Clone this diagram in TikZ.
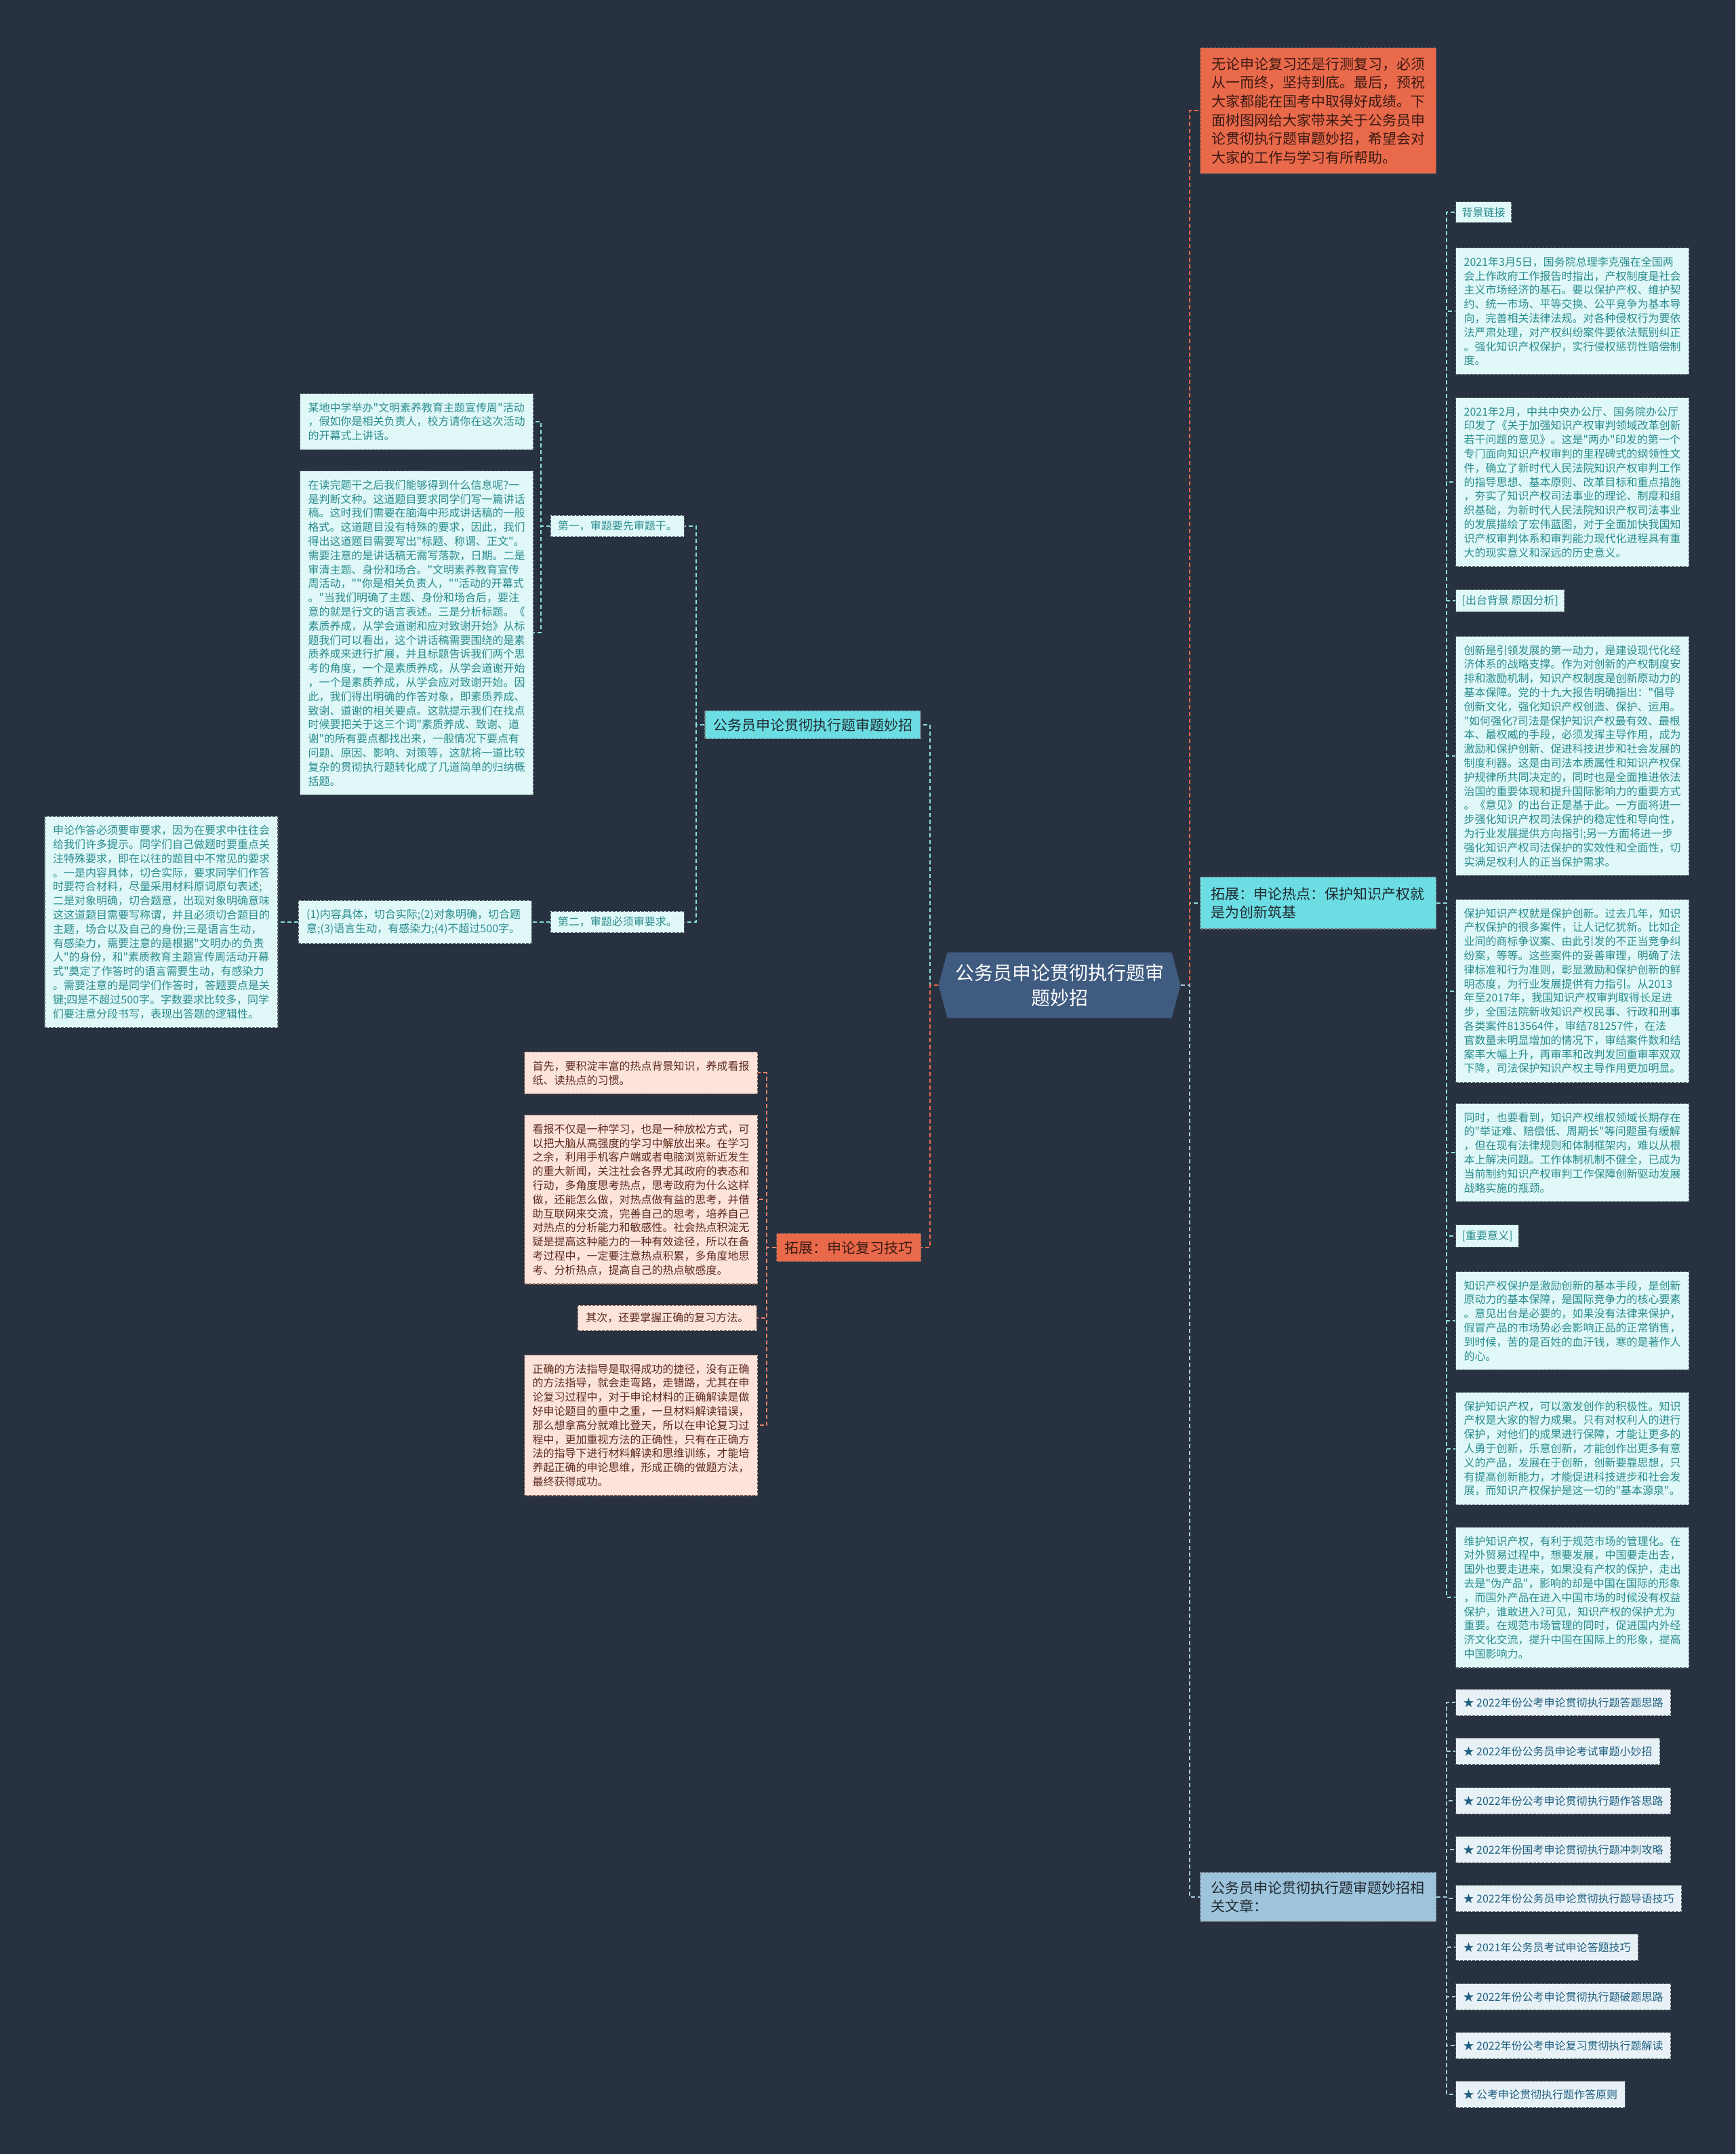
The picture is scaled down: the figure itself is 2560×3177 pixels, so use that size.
\documentclass[tikz,border=0pt]{standalone}
\usepackage{fontspec}
\newfontfamily\zh{Noto Sans CJK SC}
\usetikzlibrary{shapes.symbols}
\definecolor{bg}{HTML}{28313F}
\definecolor{cOrange}{HTML}{E9694B}
\definecolor{cCyan}{HTML}{6BDDE3}
\definecolor{cBlue}{HTML}{9EC4DC}
\definecolor{cCenter}{HTML}{3F5B80}
\definecolor{tFill}{HTML}{E1F8F8}
\definecolor{tText}{HTML}{2A8C8E}
\definecolor{tBorder}{HTML}{56666E}
\definecolor{pFill}{HTML}{FDE4DB}
\definecolor{pText}{HTML}{5E2B1F}
\definecolor{pBorder}{HTML}{7A5A50}
\definecolor{rFill}{HTML}{E8F2F6}
\definecolor{rText}{HTML}{1F5E80}
\definecolor{eCyanC}{HTML}{8ADDE2}
\definecolor{eBlueC}{HTML}{A6CCE2}
\definecolor{eSalmonC}{HTML}{E9806A}
\definecolor{darkTxt}{HTML}{202A30}
\definecolor{orTxt}{HTML}{3B1A12}
\tikzset{
  edgebase/.style={line width=2pt, dash pattern=on 6pt off 4pt},
  eO/.style={edgebase, draw=cOrange},
  eC/.style={edgebase, draw=eCyanC},
  eB/.style={edgebase, draw=eBlueC},
  eP/.style={edgebase, draw=eSalmonC},
  boxbase/.style={line width=1.2pt, dash pattern=on 4pt off 2pt, align=left},
  tbox/.style={boxbase, draw=tBorder, fill=tFill, text=tText, font=\zh\fontsize{16}{20.8}\selectfont, text width=320pt, inner xsep=12pt, inner ysep=13pt, anchor=north west},
  tlab/.style={boxbase, draw=tBorder, fill=tFill, text=tText, font=\zh\fontsize{16}{20}\selectfont, inner xsep=9pt, inner ysep=8pt, anchor=west},
  pbox/.style={boxbase, draw=pBorder, fill=pFill, text=pText, font=\zh\fontsize{16}{20.8}\selectfont, text width=320pt, inner xsep=12pt, inner ysep=13pt, anchor=north west},
  plab/.style={boxbase, draw=pBorder, fill=pFill, text=pText, font=\zh\fontsize{16}{20}\selectfont, inner xsep=12pt, inner ysep=11pt, anchor=east},
  rbox/.style={boxbase, draw=tBorder, fill=rFill, text=rText, font=\zh\fontsize{16}{20}\selectfont, inner xsep=11pt, minimum height=39pt, anchor=west},
  bigO/.style={boxbase, draw=orTxt!70, fill=cOrange, text=orTxt, font=\zh\fontsize{21}{27.6}\selectfont},
  bigC/.style={boxbase, draw=darkTxt!60, fill=cCyan, text=darkTxt, font=\zh\fontsize{21}{27}\selectfont},
  bigB/.style={boxbase, draw=darkTxt!60, fill=cBlue, text=darkTxt, font=\zh\fontsize{21}{27}\selectfont},
}
\begin{document}
\begin{tikzpicture}[x=1pt,y=-1pt]
\fill[bg] (0,0) rectangle (2560,3177);
\useasboundingbox (0,0) rectangle (2560,3177);

% center
\node[signal, signal to=west and east, signal pointer angle=150, fill=cCenter, text=white,
  font=\zh\fontsize{28}{37}\selectfont, align=center, text width=312pt, inner xsep=4pt, inner ysep=6pt,
  minimum width=357pt, minimum height=97pt] (center) at (1563,1453) {公务员申论贯彻执行题审\\题妙招};

% right main nodes
\node[bigO, text width=315pt, inner xsep=16.5pt, inner ysep=14pt, anchor=north west] (intro) at (1770,70)
 {无论申论复习还是行测复习，必须\\从一而终，坚持到底。最后，预祝\\大家都能在国考中取得好成绩。下\\面树图网给大家带来关于公务员申\\论贯彻执行题审题妙招，希望会对\\大家的工作与学习有所帮助。};
\node[bigC, text width=316pt, inner xsep=16pt, inner ysep=15pt, anchor=north west] (hot) at (1770,1293)
 {拓展：申论热点：保护知识产权就\\是为创新筑基};
\node[bigB, text width=316pt, inner xsep=16pt, inner ysep=13pt, anchor=north west] (rel) at (1770,2761)
 {公务员申论贯彻执行题审题妙招相\\关文章：};

% left main nodes
\node[bigC, inner xsep=12pt, inner ysep=11pt] (b1) at (1199,1069) {公务员申论贯彻执行题审题妙招};
\node[bigO, inner xsep=12pt, inner ysep=11pt] (b2) at (1252,1840) {拓展：申论复习技巧};

% hot children
\node[tlab] (h0) at (2147,313) {背景链接};
\node[tbox] (r1) at (2147,365) {2021年3月5日，国务院总理李克强在全国两\\会上作政府工作报告时指出，产权制度是社会\\主义市场经济的基石。要以保护产权、维护契\\约、统一市场、平等交换、公平竞争为基本导\\向，完善相关法律法规。对各种侵权行为要依\\法严肃处理，对产权纠纷案件要依法甄别纠正\\。强化知识产权保护，实行侵权惩罚性赔偿制\\度。};
\node[tbox] (r2) at (2147,586) {2021年2月，中共中央办公厅、国务院办公厅\\印发了《关于加强知识产权审判领域改革创新\\若干问题的意见》。这是"两办"印发的第一个\\专门面向知识产权审判的里程碑式的纲领性文\\件，确立了新时代人民法院知识产权审判工作\\的指导思想、基本原则、改革目标和重点措施\\，夯实了知识产权司法事业的理论、制度和组\\织基础，为新时代人民法院知识产权司法事业\\的发展描绘了宏伟蓝图，对于全面加快我国知\\识产权审判体系和审判能力现代化进程具有重\\大的现实意义和深远的历史意义。};
\node[tlab] (h1) at (2147,886) {[出台背景 原因分析]};
\node[tbox] (r3) at (2147,938) {创新是引领发展的第一动力，是建设现代化经\\济体系的战略支撑。作为对创新的产权制度安\\排和激励机制，知识产权制度是创新原动力的\\基本保障。党的十九大报告明确指出："倡导\\创新文化，强化知识产权创造、保护、运用。\\"如何强化?司法是保护知识产权最有效、最根\\本、最权威的手段，必须发挥主导作用，成为\\激励和保护创新、促进科技进步和社会发展的\\制度利器。这是由司法本质属性和知识产权保\\护规律所共同决定的，同时也是全面推进依法\\治国的重要体现和提升国际影响力的重要方式\\。《意见》的出台正是基于此。一方面将进一\\步强化知识产权司法保护的稳定性和导向性，\\为行业发展提供方向指引;另一方面将进一步\\强化知识产权司法保护的实效性和全面性，切\\实满足权利人的正当保护需求。};
\node[tbox] (r4) at (2147,1326) {保护知识产权就是保护创新。过去几年，知识\\产权保护的很多案件，让人记忆犹新。比如企\\业间的商标争议案、由此引发的不正当竞争纠\\纷案，等等。这些案件的妥善审理，明确了法\\律标准和行为准则，彰显激励和保护创新的鲜\\明态度，为行业发展提供有力指引。从2013\\年至2017年，我国知识产权审判取得长足进\\步，全国法院新收知识产权民事、行政和刑事\\各类案件813564件，审结781257件，在法\\官数量未明显增加的情况下，审结案件数和结\\案率大幅上升，再审率和改判发回重审率双双\\下降，司法保护知识产权主导作用更加明显。};
\node[tbox] (r5) at (2147,1627) {同时，也要看到，知识产权维权领域长期存在\\的"举证难、赔偿低、周期长"等问题虽有缓解\\，但在现有法律规则和体制框架内，难以从根\\本上解决问题。工作体制机制不健全，已成为\\当前制约知识产权审判工作保障创新驱动发展\\战略实施的瓶颈。};
\node[tlab] (h2) at (2147,1823) {[重要意义]};
\node[tbox] (r6) at (2147,1875) {知识产权保护是激励创新的基本手段，是创新\\原动力的基本保障，是国际竞争力的核心要素\\。意见出台是必要的，如果没有法律来保护，\\假冒产品的市场势必会影响正品的正常销售，\\到时候，苦的是百姓的血汗钱，寒的是著作人\\的心。};
\node[tbox] (r7) at (2147,2053) {保护知识产权，可以激发创作的积极性。知识\\产权是大家的智力成果。只有对权利人的进行\\保护，对他们的成果进行保障，才能让更多的\\人勇于创新，乐意创新，才能创作出更多有意\\义的产品，发展在于创新，创新要靠思想，只\\有提高创新能力，才能促进科技进步和社会发\\展，而知识产权保护是这一切的"基本源泉"。};
\node[tbox] (r8) at (2147,2252) {维护知识产权，有利于规范市场的管理化。在\\对外贸易过程中，想要发展，中国要走出去，\\国外也要走进来，如果没有产权的保护，走出\\去是"伪产品"，影响的却是中国在国际的形象\\，而国外产品在进入中国市场的时候没有权益\\保护，谁敢进入?可见，知识产权的保护尤为\\重要。在规范市场管理的同时，促进国内外经\\济文化交流，提升中国在国际上的形象，提高\\中国影响力。};

% related articles
\node[rbox] (k1) at (2147,2511) {★ 2022年份公考申论贯彻执行题答题思路};
\node[rbox] (k2) at (2147,2583) {★ 2022年份公务员申论考试审题小妙招};
\node[rbox] (k3) at (2147,2656) {★ 2022年份公考申论贯彻执行题作答思路};
\node[rbox] (k4) at (2147,2728) {★ 2022年份国考申论贯彻执行题冲刺攻略};
\node[rbox] (k5) at (2147,2800) {★ 2022年份公务员申论贯彻执行题导语技巧};
\node[rbox] (k6) at (2147,2872) {★ 2021年公务员考试申论答题技巧};
\node[rbox] (k7) at (2147,2945) {★ 2022年份公考申论贯彻执行题破题思路};
\node[rbox] (k8) at (2147,3017) {★ 2022年份公考申论复习贯彻执行题解读};
\node[rbox] (k9) at (2147,3089) {★ 公考申论贯彻执行题作答原则};

% left branch 1 children
\node[tlab, anchor=east, inner xsep=10.5pt] (d1) at (1010,776) {第一，审题要先审题干。};
\node[tlab, anchor=east, inner xsep=10.5pt] (d2) at (1010,1360) {第二，审题必须审要求。};
\node[tbox] (l1) at (442,580) {某地中学举办"文明素养教育主题宣传周"活动\\，假如你是相关负责人，校方请你在这次活动\\的开幕式上讲话。};
\node[tbox] (l2) at (442,694) {在读完题干之后我们能够得到什么信息呢?一\\是判断文种。这道题目要求同学们写一篇讲话\\稿。这时我们需要在脑海中形成讲话稿的一般\\格式。这道题目没有特殊的要求，因此，我们\\得出这道题目需要写出"标题、称谓、正文"。\\需要注意的是讲话稿无需写落款，日期。二是\\审清主题、身份和场合。"文明素养教育宣传\\周活动，""你是相关负责人，""活动的开幕式\\。"当我们明确了主题、身份和场合后，要注\\意的就是行文的语言表述。三是分析标题。《\\素质养成，从学会道谢和应对致谢开始》从标\\题我们可以看出，这个讲话稿需要围绕的是素\\质养成来进行扩展，并且标题告诉我们两个思\\考的角度，一个是素质养成，从学会道谢开始\\，一个是素质养成，从学会应对致谢开始。因\\此，我们得出明确的作答对象，即素质养成、\\致谢、道谢的相关要点。这就提示我们在找点\\时候要把关于这三个词"素质养成、致谢、道\\谢"的所有要点都找出来，一般情况下要点有\\问题、原因、影响、对策等，这就将一道比较\\复杂的贯彻执行题转化成了几道简单的归纳概\\括题。};
\node[tbox, anchor=east] (e1) at ([xshift=-27pt]d2.west) {(1)内容具体，切合实际;(2)对象明确，切合题\\意;(3)语言生动，有感染力;(4)不超过500字。};
\node[tbox, anchor=east] (f1) at ([xshift=-29pt]e1.west) {申论作答必须要审要求，因为在要求中往往会\\给我们许多提示。同学们自己做题时要重点关\\注特殊要求，即在以往的题目中不常见的要求\\。一是内容具体，切合实际，要求同学们作答\\时要符合材料，尽量采用材料原词原句表述;\\二是对象明确，切合题意，出现对象明确意味\\这这道题目需要写称谓，并且必须切合题目的\\主题，场合以及自己的身份;三是语言生动，\\有感染力，需要注意的是根据"文明办的负责\\人"的身份，和"素质教育主题宣传周活动开幕\\式"奠定了作答时的语言需要生动，有感染力\\。需要注意的是同学们作答时，答题要点是关\\键;四是不超过500字。字数要求比较多，同学\\们要注意分段书写，表现出答题的逻辑性。};

% left branch 2 children
\node[pbox] (c1) at (773,1551) {首先，要积淀丰富的热点背景知识，养成看报\\纸、读热点的习惯。};
\node[pbox] (c2) at (773,1644) {看报不仅是一种学习，也是一种放松方式，可\\以把大脑从高强度的学习中解放出来。在学习\\之余，利用手机客户端或者电脑浏览新近发生\\的重大新闻，关注社会各界尤其政府的表态和\\行动，多角度思考热点，思考政府为什么这样\\做，还能怎么做，对热点做有益的思考，并借\\助互联网来交流，完善自己的思考，培养自己\\对热点的分析能力和敏感性。社会热点积淀无\\疑是提高这种能力的一种有效途径，所以在备\\考过程中，一定要注意热点积累，多角度地思\\考、分析热点，提高自己的热点敏感度。};
\node[plab] (c3) at (1117,1944) {其次，还要掌握正确的复习方法。};
\node[pbox] (c4) at (773,1998) {正确的方法指导是取得成功的捷径，没有正确\\的方法指导，就会走弯路，走错路，尤其在申\\论复习过程中，对于申论材料的正确解读是做\\好申论题目的重中之重，一旦材料解读错误，\\那么想拿高分就难比登天，所以在申论复习过\\程中，更加重视方法的正确性，只有在正确方\\法的指导下进行材料解读和思维训练，才能培\\养起正确的申论思维，形成正确的做题方法，\\最终获得成功。};

% junctions
\coordinate (jR) at (1755,1453);
\coordinate (jL) at (1372,1453);
\coordinate (jH) at ([xshift=15pt]hot.east);
\coordinate (jRel) at ([xshift=15pt]rel.east);
\coordinate (jB1) at ([xshift=-12pt]b1.west);
\coordinate (jB2) at ([xshift=-13.5pt]b2.west);
\coordinate (jD1) at ([xshift=-14pt]d1.west);

% connectors
\draw[eC] (center.east) -- (jR) |- (hot.west);
\draw[eO] (center.east) -- (jR) |- (intro.west);
\draw[eB] (center.east) -- (jR) |- (rel.west);
\draw[eC] (center.west) -- (jL) |- (b1.east);
\draw[eO] (center.west) -- (jL) |- (b2.east);

\foreach \n in {h0,r1,r2,h1,r3,r4,r5,h2,r6,r7,r8}{
  \draw[eC] (hot.east) -- (jH) |- (\n.west);
}
\foreach \n in {k1,k2,k3,k4,k5,k6,k7,k8,k9}{
  \draw[eB] (rel.east) -- (jRel) |- (\n.west);
}
\draw[eC] (b1.west) -- (jB1) |- (d1.east);
\draw[eC] (b1.west) -- (jB1) |- (d2.east);
\draw[eC] (d1.west) -- (jD1) |- (l1.east);
\draw[eC] (d1.west) -- (jD1) |- (l2.east);
\draw[eC] (d2.west) -- (e1.east);
\draw[eC] (e1.west) -- (f1.east);
\foreach \n in {c1,c2,c3,c4}{
  \draw[eP] (b2.west) -- (jB2) |- (\n.east);
}
\end{tikzpicture}
\end{document}
